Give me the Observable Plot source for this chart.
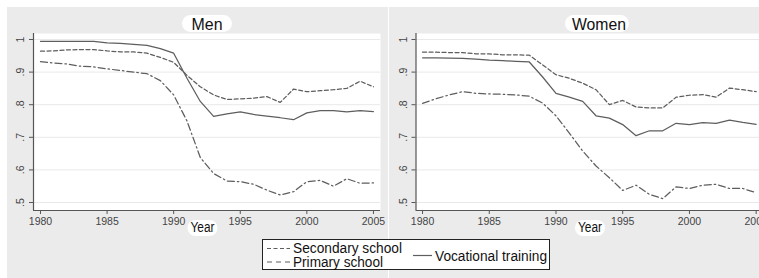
<!DOCTYPE html>
<html>
<head>
<meta charset="utf-8">
<script src="https://cdn.jsdelivr.net/npm/d3@7"></script>
<script src="https://cdn.jsdelivr.net/npm/@observablehq/plot@0.6"></script>
<style>
  body { margin: 0; background: #fff; }
  #wrap { position: relative; width: 759px; height: 278px; overflow: hidden; background: #fff;
          font-family: "Liberation Sans", Arial, sans-serif; }
  .panel { position: absolute; background: #ebebeb; }
  .plot { position: absolute; top: 0; }
  #overlay { position: absolute; left: 0; top: 0; }
</style>
</head>
<body>
<div id="wrap">
  <div class="panel" style="left:7px;top:7px;width:381px;height:271px;"></div>
  <div class="panel" style="left:389px;top:7px;width:370px;height:271px;"></div>
  <div class="plot" id="men" style="left:0px;"></div>
  <div class="plot" id="women" style="left:389px;"></div>
  <svg id="overlay" width="759" height="278"></svg>
</div>
<script>
const years = [1980,1981,1982,1983,1984,1985,1986,1987,1988,1989,1990,1991,1992,1993,1994,1995,1996,1997,1998,1999,2000,2001,2002,2003,2004,2005];

const menSecondary  = [0.964,0.965,0.968,0.969,0.969,0.965,0.962,0.962,0.958,0.945,0.930,0.890,0.855,0.830,0.816,0.818,0.820,0.825,0.807,0.848,0.840,0.843,0.846,0.850,0.872,0.855];
const menPrimary    = [0.932,0.928,0.925,0.918,0.916,0.910,0.905,0.900,0.895,0.874,0.830,0.750,0.638,0.589,0.566,0.564,0.556,0.538,0.523,0.533,0.564,0.568,0.550,0.573,0.559,0.560];
const menVocational = [0.994,0.994,0.994,0.994,0.994,0.990,0.988,0.985,0.982,0.972,0.958,0.881,0.810,0.764,0.772,0.778,0.770,0.765,0.760,0.754,0.775,0.782,0.782,0.778,0.782,0.779];

const womenSecondary  = [0.961,0.961,0.960,0.960,0.956,0.956,0.953,0.953,0.952,0.922,0.892,0.881,0.866,0.846,0.800,0.813,0.793,0.790,0.790,0.823,0.829,0.831,0.823,0.851,0.846,0.840];
const womenPrimary    = [0.804,0.818,0.830,0.840,0.835,0.833,0.832,0.830,0.826,0.805,0.766,0.713,0.658,0.612,0.576,0.537,0.553,0.525,0.512,0.548,0.543,0.553,0.556,0.543,0.543,0.530];
const womenVocational = [0.944,0.944,0.943,0.942,0.940,0.937,0.935,0.933,0.931,0.885,0.835,0.823,0.810,0.766,0.759,0.739,0.705,0.720,0.720,0.743,0.739,0.745,0.743,0.753,0.746,0.740];

const seriesNames = ["Secondary school", "Primary school", "Vocational training"];
const panelTitles = ["Men", "Women"];
const xTicks = [1980, 1985, 1990, 1995, 2000, 2005];
const yTicks = [0.5, 0.6, 0.7, 0.8, 0.9, 1];
const yTickLabels = [".5", ".6", ".7", ".8", ".9", "1"];
const xLabel = "Year";

const lineColor = "#5e5e5e";
const dashes = { "Secondary school": "4,2.5", "Primary school": "7,3,1.5,3", "Vocational training": null };

function rows(vals) { return years.map((y, i) => ({ year: y, value: vals[i] })); }

function makePanel(series, o) {
  const yDom = [0.4755, 1.0184];
  const marks = [
    Plot.frame({ fill: "white", stroke: null }),
    Plot.ruleY(yTicks, { stroke: "#e9e9e9", strokeWidth: 1 }),
    Plot.ruleX([o.xDom[0]], { stroke: "#555", strokeWidth: 1.2 }),
    Plot.ruleY([yDom[0]], { stroke: "#555", strokeWidth: 1.2 }),
    Plot.axisY(yTicks, { tickSize: 4, tickFormat: () => "", label: null, stroke: "#555" }),
    Plot.text(yTicks, { y: d => d, text: (d, i) => yTickLabels[i], frameAnchor: "left", dx: o.yLabelDx,
      rotate: -90, fontSize: 10.5, fill: "#444", textAnchor: "middle", lineAnchor: "middle" }),
    Plot.axisX(xTicks, { tickSize: 4, tickPadding: 3, tickFormat: d => String(d), label: null,
      fontSize: 10.5, stroke: "#555", fill: "#444" })
  ];
  series.forEach((vals, i) => {
    const name = seriesNames[i];
    const opt = { x: "year", y: "value", stroke: lineColor, strokeWidth: 1.25 };
    if (dashes[name]) opt.strokeDasharray = dashes[name];
    marks.push(Plot.line(rows(vals), opt));
  });
  return Plot.plot({
    width: o.width, height: 240,
    marginLeft: o.ml, marginRight: o.mr, marginTop: 33, marginBottom: 30,
    x: { domain: o.xDom },
    y: { domain: yDom },
    style: { background: "transparent", fontFamily: "Liberation Sans, Arial, sans-serif", overflow: "visible" },
    marks
  });
}

document.getElementById("men").appendChild(
  makePanel([menSecondary, menPrimary, menVocational],
    { width: 390, ml: 33, mr: 10, xDom: [1979.475, 2005.53], yLabelDx: -13 }));
document.getElementById("women").appendChild(
  makePanel([womenSecondary, womenPrimary, womenVocational],
    { width: 370, ml: 26.5, mr: 0, xDom: [1979.51, 2005.25], yLabelDx: -12.5 }));

// Overlay: panel titles, axis titles, legend
const svg = d3.select("#overlay");
const ff = "Liberation Sans, Arial, sans-serif";

function pill(cx, y0, w, h) {
  svg.append("rect").attr("x", cx - w / 2).attr("y", y0).attr("width", w).attr("height", h)
    .attr("rx", h / 2).attr("fill", "white");
}
function label(txt, cx, base, size, len) {
  svg.append("text").attr("x", cx - len / 2).attr("y", base).attr("font-family", ff)
    .attr("font-size", size).attr("fill", "#111").attr("textLength", len)
    .attr("lengthAdjust", "spacingAndGlyphs").text(txt);
}

pill(207, 15, 50, 17); label(panelTitles[0], 207, 29.5, 17, 31);
pill(597, 15, 64, 17); label(panelTitles[1], 599, 29.5, 17, 54);
pill(202.5, 220, 30, 16); label(xLabel, 202.5, 232, 14, 24);
pill(590, 220, 30, 16); label(xLabel, 590, 232, 14, 24);

// Legend
svg.append("rect").attr("x", 262.5).attr("y", 239.5).attr("width", 287).attr("height", 30)
  .attr("fill", "white").attr("stroke", "#222").attr("stroke-width", 1);
const leg = [
  { name: seriesNames[0], x1: 267, x2: 290, y: 248.5, tx: 293, base: 253, len: 109, size: 14 },
  { name: seriesNames[1], x1: 267, x2: 290, y: 262, tx: 293, base: 267, len: 90, size: 14 },
  { name: seriesNames[2], x1: 413, x2: 432, y: 255.5, tx: 435, base: 261, len: 112, size: 15.5 }
];
leg.forEach(d => {
  const l = svg.append("line").attr("x1", d.x1).attr("x2", d.x2).attr("y1", d.y).attr("y2", d.y)
    .attr("stroke", lineColor).attr("stroke-width", 1.2);
  if (dashes[d.name]) l.attr("stroke-dasharray", d.name === "Primary school" ? "5,4" : dashes[d.name]);
  svg.append("text").attr("x", d.tx).attr("y", d.base).attr("font-family", ff).attr("font-size", d.size)
    .attr("fill", "#111").attr("textLength", d.len).attr("lengthAdjust", "spacingAndGlyphs").text(d.name);
});
</script>
</body>
</html>
